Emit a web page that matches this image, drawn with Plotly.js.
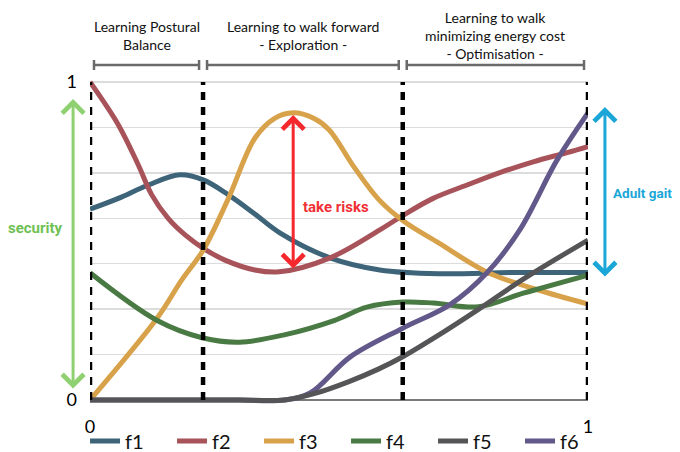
<!DOCTYPE html>
<html><head><meta charset="utf-8">
<script src="https://cdn.plot.ly/plotly-3.0.1.min.js"></script>
<style>html,body{margin:0;padding:0;background:#fff}#chart{width:680px;height:452px}</style>
</head><body><div id="chart"></div>
<script>
// ---- data (x = progress 0..1, y = weight 0..1) ----
const seriesNames = ['f1', 'f2', 'f3', 'f4', 'f5', 'f6'];
const f1x = [0, 0.057, 0.117, 0.181, 0.2275, 0.278, 0.331, 0.382, 0.482, 0.582, 0.7, 0.85, 1.0];
const f1y = [0.600, 0.634, 0.676, 0.708, 0.692, 0.645, 0.585, 0.525, 0.447, 0.409, 0.397, 0.401, 0.401];
const f2x = [0, 0.057, 0.097, 0.124, 0.157, 0.191, 0.2275, 0.271, 0.331, 0.38, 0.482, 0.582, 0.628, 0.689, 0.757, 0.823, 0.89, 0.958, 1.0];
const f2y = [1.0, 0.865, 0.739, 0.645, 0.571, 0.519, 0.477, 0.440, 0.409, 0.403, 0.447, 0.535, 0.580, 0.634, 0.676, 0.715, 0.749, 0.778, 0.797];
const f3x = [0, 0.135, 0.184, 0.2275, 0.278, 0.331, 0.37, 0.408, 0.45, 0.48, 0.53, 0.58, 0.63, 0.7, 0.8, 0.9, 1.0];
const f3y = [0, 0.258, 0.377, 0.472, 0.634, 0.823, 0.885, 0.903, 0.885, 0.850, 0.733, 0.630, 0.562, 0.494, 0.400, 0.346, 0.302];
const f4x = [0, 0.135, 0.227, 0.3, 0.39, 0.49, 0.556, 0.628, 0.69, 0.78, 0.87, 1.0];
const f4y = [0.400, 0.250, 0.195, 0.182, 0.205, 0.250, 0.292, 0.308, 0.305, 0.293, 0.336, 0.393];
const f5x = [0, 0.2, 0.3, 0.39, 0.45, 0.52, 0.58, 0.628, 0.7, 0.78, 0.87, 1.0];
const f5y = [0, 0, 0, 0, 0.020, 0.058, 0.098, 0.136, 0.204, 0.285, 0.380, 0.503];
const f6x = [0, 0.2, 0.3, 0.39, 0.442, 0.522, 0.628, 0.723, 0.797, 0.863, 0.938, 1.0];
const f6y = [0, 0, 0, 0, 0.022, 0.135, 0.226, 0.300, 0.400, 0.535, 0.755, 0.903];
const seriesData = {f1: [f1x, f1y], f2: [f2x, f2y], f3: [f3x, f3y], f4: [f4x, f4y], f5: [f5x, f5y], f6: [f6x, f6y]};
const seriesColors = {f1: '#3d6478', f2: '#a8535a', f3: '#d8a24b', f4: '#4a7a43', f5: '#555456', f6: '#625889'};
const drawOrder = ['f1', 'f2', 'f3', 'f4', 'f6', 'f5'];

const phaseBounds = [0, 0.227, 0.628, 1];
const phaseTitles = ['Learning Postural<br>Balance', 'Learning to walk forward<br>- Exploration -', 'Learning to walk<br>minimizing energy cost<br>- Optimisation -'];
const yTickVals = [0, 1/7, 2/7, 3/7, 4/7, 5/7, 6/7, 1];
const yTickText = ['0', '', '', '', '', '', '', '1'];
const xTickVals = [0, 1];
const xTickText = ['0', '1'];

const FONT = 'Lato, "Open Sans", "DejaVu Sans", sans-serif';
const BOLD = 'Roboto, "Liberation Sans", sans-serif';

const traces = drawOrder.map(name => ({
  type: 'scatter', mode: 'lines', name: name,
  x: seriesData[name][0], y: seriesData[name][1],
  line: {color: seriesColors[name], width: 5, shape: 'spline', smoothing: 1},
  legendrank: seriesNames.indexOf(name) + 1,
  hoverinfo: 'skip'
}));

const shapes = [];
// dashed phase separators
phaseBounds.forEach(b => shapes.push({
  type: 'line', xref: 'x', yref: 'y', x0: b, x1: b, y0: 0, y1: 1,
  line: {color: '#000', width: 4.5, dash: '8px,7px'}, layer: 'above'
}));
// brackets above each phase
const brY = 1.027, capHi = 1.042, capLo = 1.012;
for (let i = 0; i < phaseBounds.length - 1; i++) {
  const a = phaseBounds[i] + 0.008, b = phaseBounds[i + 1] - 0.008;
  shapes.push({type: 'line', xref: 'paper', yref: 'paper', x0: a, x1: b, y0: brY, y1: brY, line: {color: '#6a6a6a', width: 2.5}});
  [a, b].forEach(p => shapes.push({type: 'line', xref: 'paper', yref: 'paper', x0: p, x1: p, y0: capLo, y1: capHi, line: {color: '#6a6a6a', width: 2.5}}));
}

const annotations = [];
for (let i = 0; i < phaseTitles.length; i++) {
  annotations.push({
    xref: 'paper', yref: 'paper', x: (phaseBounds[i] + phaseBounds[i + 1]) / 2, y: 1.114,
    xanchor: 'center', yanchor: 'middle', showarrow: false, text: phaseTitles[i],
    font: {family: FONT, size: 14, color: '#111'}
  });
}
// hand-drawn style double arrows
function dblArrow(x, y, len, color) {
  return {xref: 'paper', yref: 'paper', x: x, y: y, ax: 0, ay: len, text: '',
    showarrow: true, arrowside: 'end+start', arrowhead: 4, startarrowhead: 4,
    arrowsize: 1.4, startarrowsize: 1.4, arrowwidth: 3, arrowcolor: color};
}
annotations.push(dblArrow(-0.034, 0.925, 291, '#8fd071'));
annotations.push(dblArrow(0.408, 0.877, 155, '#f5282e'));
annotations.push(dblArrow(1.034, 0.901, 171, '#1ba6d8'));
annotations.push({xref: 'paper', yref: 'paper', x: -0.110, xanchor: 'center', y: 0.539, yanchor: 'middle',
  text: '<b>security</b>', showarrow: false, font: {family: BOLD, size: 15, color: '#6fc155'}});
annotations.push({xref: 'paper', yref: 'paper', x: 0.494, xanchor: 'center', y: 0.602, yanchor: 'middle',
  text: '<b>take risks</b>', showarrow: false, font: {family: BOLD, size: 15, color: '#f03036'}});
annotations.push({xref: 'paper', yref: 'paper', x: 1.046, xanchor: 'left', y: 0.644, yanchor: 'middle',
  text: '<b>Adult gait</b>', showarrow: false, font: {family: BOLD, size: 13.5, color: '#1ba6d8'}});

const layout = {
  width: 680, height: 452,
  margin: {l: 90, r: 92, t: 74, b: 44, autoexpand: false},
  paper_bgcolor: '#fff', plot_bgcolor: '#fff',
  font: {family: FONT, color: '#000'},
  showlegend: true,
  legend: {orientation: 'h', x: -0.01, xanchor: 'left', y: -0.099, yanchor: 'middle', bgcolor: 'rgba(0,0,0,0)',
    font: {family: FONT, size: 20, color: '#111'}, itemwidth: 30, entrywidth: 42, entrywidthmode: 'pixels'},
  xaxis: {range: [0, 1], tickvals: xTickVals, ticktext: xTickText, showgrid: false, zeroline: false,
    showline: false, ticks: '', ticklabelstandoff: 6, tickfont: {family: FONT, size: 18, color: '#000'}, fixedrange: true},
  yaxis: {range: [-0.025, 1.025], tickvals: yTickVals, ticktext: yTickText, showgrid: true,
    gridcolor: '#dcdcdc', gridwidth: 1.5, zeroline: true, zerolinecolor: '#7a7a7a', zerolinewidth: 2,
    showline: false, ticks: '', ticklabelstandoff: 12, tickfont: {family: FONT, size: 18, color: '#000'}, fixedrange: true},
  shapes: shapes,
  annotations: annotations
};

Plotly.newPlot('chart', traces, layout, {displayModeBar: false, staticPlot: true});
</script>
</body></html>
